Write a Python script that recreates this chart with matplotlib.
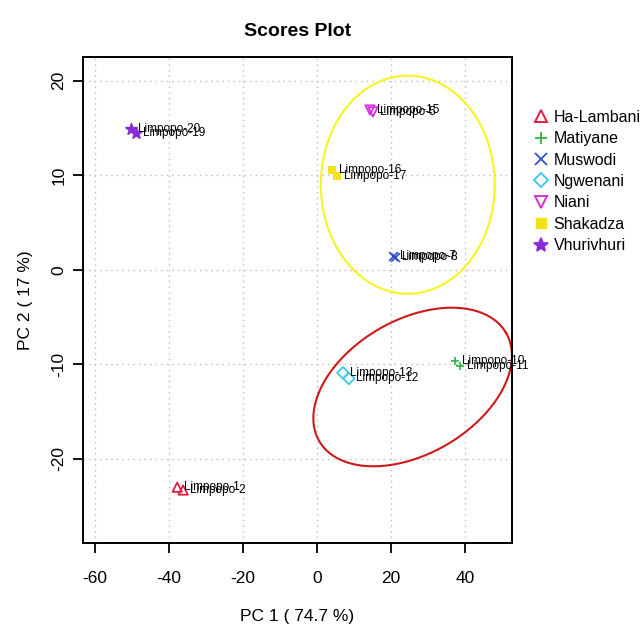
import numpy as np
import matplotlib
matplotlib.use("Agg")
import matplotlib.pyplot as plt
from matplotlib.lines import Line2D

plt.rcParams['font.family'] = ['Liberation Sans', 'DejaVu Sans']

# Sample groups and PCA scores
groups = ["Ha-Lambani", "Matiyane", "Muswodi", "Ngwenani", "Niani", "Shakadza", "Vhurivhuri"]
pc1 = {
    "Ha-Lambani": [-37.7, -36.1],
    "Matiyane":   [37.2, 38.5],
    "Muswodi":    [20.5, 21.1],
    "Ngwenani":   [7.0, 8.6],
    "Niani":      [14.3, 15.1],
    "Shakadza":   [4.0, 5.4],
    "Vhurivhuri": [-50.1, -48.8],
}
pc2 = {
    "Ha-Lambani": [-23.0, -23.3],
    "Matiyane":   [-9.7, -10.2],
    "Muswodi":    [1.5, 1.4],
    "Ngwenani":   [-10.9, -11.5],
    "Niani":      [16.9, 16.7],
    "Shakadza":   [10.6, 9.9],
    "Vhurivhuri": [14.9, 14.5],
}
sample_labels = {
    "Ha-Lambani": ["Limpopo-1", "Limpopo-2"],
    "Matiyane":   ["Limpopo-10", "Limpopo-11"],
    "Muswodi":    ["Limpopo-7", "Limpopo-8"],
    "Ngwenani":   ["Limpopo-13", "Limpopo-12"],
    "Niani":      ["Limpopo-15", "Limpopo-5"],
    "Shakadza":   ["Limpopo-16", "Limpopo-17"],
    "Vhurivhuri": ["Limpopo-20", "Limpopo-19"],
}
colors = {
    "Ha-Lambani": "#DF1F3F",
    "Matiyane":   "#2DB43C",
    "Muswodi":    "#2E4FD0",
    "Ngwenani":   "#3EC8E8",
    "Niani":      "#D92ED9",
    "Shakadza":   "#F2E21A",
    "Vhurivhuri": "#8A2BD8",
}
markers = {
    "Ha-Lambani": "^",
    "Matiyane":   "+",
    "Muswodi":    "x",
    "Ngwenani":   "D",
    "Niani":      "v",
    "Shakadza":   "s",
    "Vhurivhuri": "*",
}
xticks = [-60, -40, -20, 0, 20, 40]
yticks = [-20, -10, 0, 10, 20]

fig = plt.figure(figsize=(6.42, 6.27), dpi=100)
ax = fig.add_axes([0.1293, 0.134, 0.6682, 0.775])
ax.set_xlim(-63.1, 52.6)
ax.set_ylim(-28.9, 22.5)

ax.grid(True, color="#BBBBBB", linestyle=(0, (1, 3)), linewidth=1.0)
ax.set_axisbelow(True)

for g in groups:
    m = markers[g]
    filled = m in ("+", "x", "*")
    kw = dict(marker=m, s=40 if m != "*" else 70, linewidths=1.2, zorder=3)
    if filled:
        ax.scatter(pc1[g], pc2[g], color=colors[g], **kw)
    elif m == "s":
        ax.scatter(pc1[g], pc2[g], color=colors[g], marker="s", s=35, zorder=3, linewidths=0)
    else:
        ax.scatter(pc1[g], pc2[g], facecolors="none", edgecolors=colors[g],
                   s=35 if m == "D" else 45, marker=m, linewidths=1.3, zorder=3)
    for xv, yv, lab in zip(pc1[g], pc2[g], sample_labels[g]):
        ax.annotate(lab, (xv, yv), xytext=(5, 0), textcoords="offset points",
                    ha="left", va="center", fontsize=8.5, color="black", zorder=4)

# Group ellipses, defined in pixel-scaled units so that the tilt reads on screen
sx = 74.2 / 20.0   # pixels per unit on PC1
sy = 94.5 / 10.0   # pixels per unit on PC2
t = np.linspace(0, 2 * np.pi, 400)

def ellipse(cx, cy, a_px, b_px, ang_deg, color):
    th = np.deg2rad(ang_deg)
    ux = a_px * np.cos(t) * np.cos(th) - b_px * np.sin(t) * np.sin(th)
    uy = a_px * np.cos(t) * np.sin(th) + b_px * np.sin(t) * np.cos(th)
    ax.plot(cx + ux / sx, cy + uy / sy, color=color, linewidth=1.5, zorder=2)

ellipse(24.5, 9.0, 87, 109, 0, "#F5F522")
ellipse(25.8, -12.4, 108, 67, 30, "#CC1A1A")

ax.set_xticks(xticks)
ax.set_yticks(yticks)
ax.set_xticklabels([str(v) for v in xticks], fontsize=12.5)
ax.set_yticklabels([str(v) for v in yticks], fontsize=12.5, rotation=90, va="center")
ax.tick_params(direction="out", length=7, width=1.3)
ax.tick_params(axis="x", pad=13)
ax.tick_params(axis="y", pad=5)
for sp in ax.spines.values():
    sp.set_linewidth(1.4)

ax.set_xlabel("PC 1 ( 74.7 %)", fontsize=12.5, labelpad=17)
ax.set_ylabel("PC 2 ( 17 %)", fontsize=12.5, labelpad=13)
ax.set_title("Scores Plot", fontsize=14, fontweight="bold", pad=15)

handles = []
for g in groups:
    m = markers[g]
    if m in ("+", "x", "*"):
        h = Line2D([], [], linestyle="none", marker=m, color=colors[g],
                   markersize=8 if m != "*" else 10, markeredgewidth=1.3)
    elif m == "s":
        h = Line2D([], [], linestyle="none", marker="s", color=colors[g], markersize=7)
    else:
        h = Line2D([], [], linestyle="none", marker=m, markerfacecolor="none",
                   markeredgecolor=colors[g], markersize=7 if m == "D" else 8,
                   markeredgewidth=1.4)
    handles.append(h)
fig.legend(handles, groups, loc="upper left", bbox_to_anchor=(0.82, 0.835),
           frameon=False, fontsize=11.5, handletextpad=0.3, labelspacing=0.4,
           handlelength=1.0, borderaxespad=0)

fig.savefig("out.png", dpi=100)
